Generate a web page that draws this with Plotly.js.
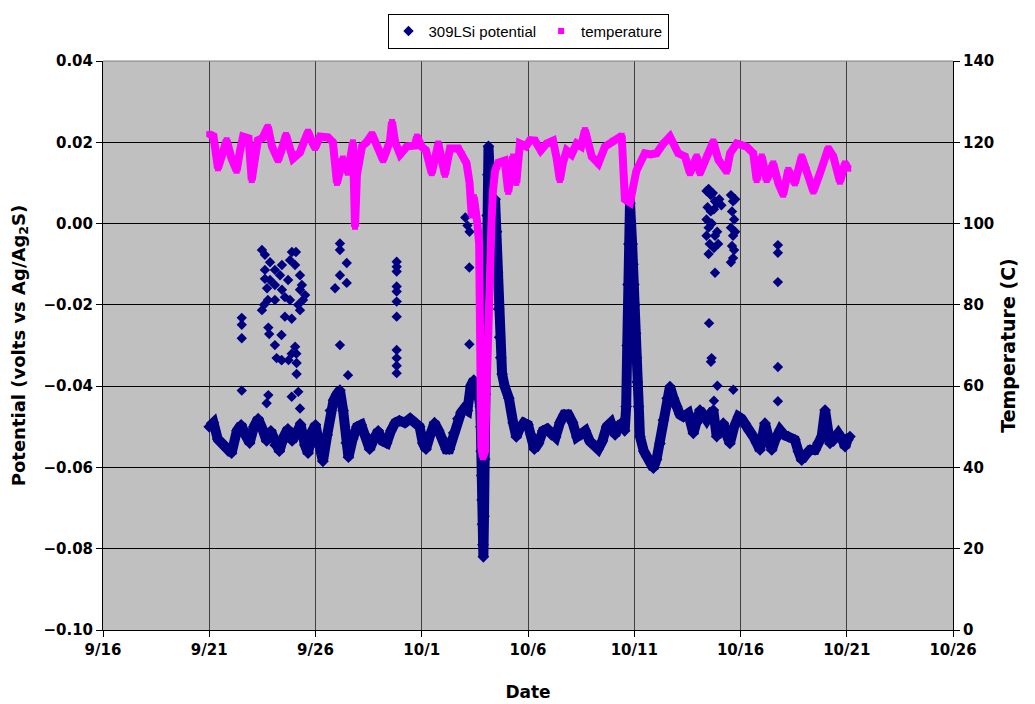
<!DOCTYPE html>
<html>
<head>
<meta charset="utf-8">
<script src="https://cdn.plot.ly/plotly-3.0.1.min.js"></script>
<style>
  html, body { margin: 0; padding: 0; background: #ffffff; }
  #chart { width: 1035px; height: 704px; }
</style>
</head>
<body>
<div id="chart"></div>
<script>
// x values are days counted from 9/16
const tickDays = [0, 5, 10, 15, 20, 25, 30, 35, 40];
const tickLabels = ['9/16', '9/21', '9/26', '10/1', '10/6', '10/11', '10/16', '10/21', '10/26'];

// 309LSi potential, main record (volts)
const potDays = [5.0,5.2,5.4,5.6,5.85,6.05,6.3,6.5,6.7,6.9,7.1,7.3,7.5,7.7,7.9,8.1,8.3,8.5,8.7,8.9,9.1,9.3,9.5,9.65,9.85,10.0,10.2,10.35,10.55,10.7,10.85,11.0,11.15,11.3,11.45,11.55,11.75,11.95,12.15,12.35,12.55,12.75,12.95,13.15,13.35,13.55,13.75,13.95,14.2,14.45,14.7,14.9,15.05,15.2,15.4,15.6,15.8,16.0,16.15,16.3,16.5,16.7,16.85,17.0,17.15,17.3,17.45,17.6,17.75,17.78,17.8,17.82,17.84,17.86,17.88,17.9,17.93,17.96,17.99,18.02,18.05,18.08,18.11,18.14,18.2,18.28,18.36,18.45,18.52,18.57,18.62,18.67,18.72,18.78,18.9,19.1,19.3,19.45,19.6,19.8,20.0,20.15,20.3,20.5,20.7,20.9,21.1,21.3,21.5,21.7,21.9,22.1,22.3,22.5,22.7,22.9,23.1,23.3,23.5,23.7,23.9,24.1,24.25,24.4,24.55,24.62,24.67,24.71,24.75,24.8,24.85,24.9,24.94,24.98,25.02,25.06,25.1,25.14,25.2,25.27,25.45,25.6,25.9,26.05,26.21,26.37,26.55,26.68,26.85,27.0,27.15,27.31,27.54,27.78,27.95,28.09,28.25,28.41,28.56,28.72,28.88,29.05,29.19,29.35,29.5,29.7,29.9,30.05,30.21,30.4,30.6,30.76,30.92,31.15,31.3,31.47,31.65,31.86,32.05,32.25,32.56,32.72,32.88,33.05,33.27,33.51,33.65,33.82,33.98,34.1,34.21,34.4,34.6,34.78,34.92,35.05,35.15];
const potValues = [-0.050,-0.049,-0.053,-0.054,-0.0555,-0.0565,-0.051,-0.0495,-0.052,-0.054,-0.050,-0.048,-0.0505,-0.0535,-0.051,-0.0545,-0.056,-0.0525,-0.0505,-0.0535,-0.052,-0.0495,-0.0545,-0.0565,-0.051,-0.0495,-0.055,-0.0585,-0.052,-0.046,-0.0435,-0.042,-0.041,-0.046,-0.054,-0.0575,-0.053,-0.050,-0.0495,-0.052,-0.0555,-0.053,-0.051,-0.0535,-0.054,-0.051,-0.049,-0.0485,-0.049,-0.048,-0.049,-0.050,-0.054,-0.0555,-0.052,-0.049,-0.051,-0.053,-0.0555,-0.0555,-0.0515,-0.048,-0.0465,-0.0455,-0.046,-0.040,-0.0385,-0.040,-0.045,-0.050,-0.056,-0.062,-0.068,-0.074,-0.079,-0.082,-0.072,-0.058,-0.042,-0.026,-0.010,0.002,0.012,0.019,0.012,0.005,0.000,0.006,-0.002,-0.012,-0.021,-0.028,-0.033,-0.037,-0.040,-0.043,-0.049,-0.0525,-0.0505,-0.049,-0.0495,-0.052,-0.0555,-0.054,-0.051,-0.0505,-0.052,-0.0525,-0.049,-0.047,-0.047,-0.049,-0.0525,-0.052,-0.051,-0.0535,-0.0545,-0.0555,-0.0535,-0.050,-0.049,-0.052,-0.050,-0.049,-0.051,-0.045,-0.030,-0.015,-0.005,0.005,0.000,-0.005,-0.010,-0.015,-0.020,-0.027,-0.033,-0.039,-0.045,-0.0524,-0.056,-0.0574,-0.0602,-0.058,-0.0541,-0.0483,-0.043,-0.0401,-0.043,-0.0451,-0.047,-0.0475,-0.0467,-0.0516,-0.049,-0.0459,-0.047,-0.0483,-0.047,-0.0459,-0.0524,-0.050,-0.0491,-0.052,-0.0541,-0.050,-0.0475,-0.048,-0.0491,-0.051,-0.0524,-0.054,-0.0557,-0.0491,-0.053,-0.0557,-0.053,-0.0508,-0.052,-0.0524,-0.0532,-0.056,-0.0582,-0.057,-0.0557,-0.0557,-0.054,-0.0524,-0.0459,-0.051,-0.0541,-0.053,-0.0516,-0.053,-0.0549,-0.053,-0.0524];

// 309LSi potential, scattered readings away from the main record (volts)
const scatterDays = [6.53,6.53,6.53,6.53,
  7.48,7.62,7.86,8.09,8.33,8.80,8.89,9.04,9.27,9.36,9.51,9.18,8.80,8.56,8.09,7.76,7.58,7.48,7.72,8.09,8.42,8.71,9.27,7.62,7.86,8.42,9.08,9.41,9.27,7.62,
  7.78,7.82,8.09,8.40,8.56,8.88,9.04,9.10,8.40,7.78,7.70,8.41,8.88,9.11,9.11,9.19,8.88,9.27,9.27,8.17,8.73,
  11.15,11.15,11.47,11.15,11.47,10.92,11.15,11.53,
  13.82,13.82,13.82,13.82,13.82,13.82,13.82,13.82,13.82,13.82,13.82,
  17.05,17.15,17.25,17.24,17.24,
  28.4,28.5,28.6,28.7,28.8,28.9,29.0,28.45,28.6,28.75,29.1,28.4,28.5,28.65,28.8,28.9,28.4,28.55,28.75,28.95,28.5,28.8,28.52,28.64,28.61,28.91,28.75,29.66,
  29.55,29.65,29.75,29.6,29.7,29.55,29.65,29.75,29.6,29.7,29.65,29.55,
  31.76,31.76,31.76,31.76,31.76];
const scatterValues = [-0.0232,-0.0249,-0.0282,-0.0411,
  -0.0065,-0.0077,-0.0095,-0.0114,-0.0127,-0.0090,-0.0070,-0.0102,-0.0127,-0.0151,-0.0176,-0.0200,-0.0188,-0.0181,-0.0188,-0.0188,-0.0200,-0.0213,-0.0159,-0.0151,-0.0163,-0.0139,-0.0163,-0.0114,-0.0139,-0.0102,-0.0070,-0.0188,-0.0213,-0.0136,
  -0.0256,-0.0272,-0.0299,-0.0274,-0.0229,-0.0234,-0.0303,-0.0320,-0.0336,-0.0422,-0.0442,-0.0336,-0.0320,-0.0343,-0.0370,-0.0414,-0.0426,-0.0455,-0.0491,-0.0331,-0.0336,
  -0.0049,-0.0065,-0.0097,-0.0127,-0.0146,-0.0159,-0.0299,-0.0373,
  -0.0094,-0.0106,-0.0118,-0.0155,-0.0167,-0.0192,-0.0229,-0.0311,-0.0331,-0.0350,-0.0368,
  0.0015,-0.0005,-0.0020,-0.0108,-0.0297,
  0.0080,0.0085,0.0070,0.0075,0.0055,0.0050,0.0060,0.0040,0.0030,0.0035,0.0045,0.0010,-0.0010,0.0000,-0.0030,-0.0020,-0.0030,-0.0050,-0.0060,-0.0050,-0.0075,-0.0121,-0.0245,-0.0331,-0.0340,-0.0399,-0.0436,-0.0409,
  0.0070,0.0055,0.0060,0.0030,0.0010,-0.0010,-0.0030,-0.0020,-0.0055,-0.0065,-0.0085,-0.0095,
  -0.0053,-0.0072,-0.0144,-0.0353,-0.0437];

// temperature (C)
const tempDays = [5.0,5.2,5.41,5.6,5.82,6.05,6.29,6.45,6.59,6.85,7.0,7.15,7.29,7.5,7.76,7.95,8.24,8.4,8.61,8.94,9.1,9.27,9.45,9.65,9.85,9.98,10.21,10.59,10.82,11.01,11.15,11.29,11.53,11.76,11.86,11.95,12.19,12.4,12.66,12.9,13.18,13.35,13.51,13.6,13.75,13.98,14.31,14.68,14.78,15.0,15.2,15.47,15.78,16.09,16.33,16.72,16.9,17.11,17.25,17.35,17.45,17.55,17.62,17.7,17.72,17.74,17.76,17.8,17.88,17.98,18.03,18.07,18.15,18.22,18.28,18.35,18.45,18.6,18.9,19.07,19.2,19.3,19.45,19.62,19.9,20.1,20.33,20.6,20.88,21.18,21.35,21.5,21.65,21.82,22.05,22.29,22.5,22.68,23.0,23.31,23.62,24.02,24.41,24.56,24.8,25.1,25.5,25.75,26.05,26.37,26.68,27.07,27.39,27.62,27.94,28.09,28.41,28.72,28.96,29.35,29.51,29.82,30.29,30.6,30.76,31.0,31.23,31.54,31.78,32.01,32.25,32.56,32.88,33.12,33.43,33.74,34.13,34.37,34.68,34.92,35.07];
const tempValues = [122,121.5,113.6,117,120.5,116,113,118,121.4,121,110.7,116,120.5,121,123.8,119,115.6,118,121.8,116,117,117.5,120,122.6,120,118.6,121.4,121.2,120,110,113,116,112.5,120,99.2,112,119,120,122,119,115.6,118,120.5,125,120,117,119,119.2,121.4,118.9,118,112.4,119.7,112,118.5,118.5,117,114.8,110,102,106.5,104,100,95,80,65,55,45,42.5,44,55,66,80,92,100,108,113,115,115.5,107.8,112,116.5,110,119.7,119,120.5,120.4,118,119.7,120.4,116,110.7,115,118,117,119.7,119,123,116.5,114.8,118.9,120.4,121.6,106,105.2,113,117.3,117,117.3,119.7,121.4,117.3,116.5,112.4,116.5,112.4,116.5,120.2,115.7,112.8,117.3,119.7,118.9,117.3,110.7,116.5,110.7,114.8,109.9,107.1,113.2,109.9,116.5,113.2,107.9,112.4,118.5,116.5,110.3,114.8,113.5];

const NAVY = '#000080';
const PINK = '#FF00FF';
const boldFont = 'DejaVu Sans, Liberation Sans, Arial, sans-serif';

const traces = [
  {
    x: potDays, y: potValues, type: 'scatter', mode: 'lines+markers',
    line: {color: NAVY, width: 10}, marker: {symbol: 'diamond', color: NAVY, size: 9},
    showlegend: false, hoverinfo: 'skip', yaxis: 'y'
  },
  {
    x: scatterDays, y: scatterValues, type: 'scatter', mode: 'markers',
    name: '309LSi potential',
    marker: {symbol: 'diamond', color: NAVY, size: 8}, yaxis: 'y'
  },
  {
    x: tempDays, y: tempValues, type: 'scatter', mode: 'lines',
    line: {color: PINK, width: 8},
    showlegend: false, hoverinfo: 'skip', yaxis: 'y2'
  },
  {
    x: tempDays, y: tempValues, type: 'scatter', mode: 'markers',
    name: 'temperature',
    marker: {symbol: 'square', color: PINK, size: 6}, yaxis: 'y2'
  }
];

const layout = {
  width: 1035, height: 704,
  margin: {l: 103, r: 82, t: 61, b: 74, pad: 0},
  paper_bgcolor: '#ffffff',
  plot_bgcolor: '#C0C0C0',
  showlegend: true,
  legend: {
    orientation: 'h', x: 0.5, xanchor: 'center', y: 1.083, yanchor: 'top',
    bgcolor: '#ffffff', bordercolor: '#000000', borderwidth: 1,
    font: {family: 'Liberation Sans, Arial, sans-serif', size: 15, color: '#000000'},
    itemwidth: 20, tracegroupgap: 0
  },
  xaxis: {
    range: [0, 40], tickmode: 'array', tickvals: tickDays, ticktext: tickLabels,
    showgrid: true, gridcolor: '#404040', gridwidth: 1,
    zeroline: false, showline: true, linecolor: '#000000', linewidth: 1,
    ticks: 'outside', ticklen: 6, tickcolor: '#000000',
    tickfont: {family: boldFont, size: 15, color: '#000000', weight: 'bold'},
    title: {text: 'Date', standoff: 28, font: {family: boldFont, size: 17, color: '#000000', weight: 'bold'}},
    automargin: false, fixedrange: true
  },
  yaxis: {
    range: [-0.10, 0.04], tickmode: 'linear', tick0: -0.10, dtick: 0.02, tickformat: '.2f',
    showgrid: true, gridcolor: '#000000', gridwidth: 1,
    zeroline: false, showline: true, linecolor: '#000000', linewidth: 1,
    ticks: 'outside', ticklen: 6, tickcolor: '#000000',
    tickfont: {family: boldFont, size: 15, color: '#000000', weight: 'bold'},
    title: {text: 'Potential (volts vs Ag/Ag<sub>2</sub>S)', standoff: 13, font: {family: boldFont, size: 18, color: '#000000', weight: 'bold'}},
    automargin: false, fixedrange: true
  },
  yaxis2: {
    range: [0, 140], tickmode: 'linear', tick0: 0, dtick: 20,
    overlaying: 'y', side: 'right',
    showgrid: false, zeroline: false, showline: true, linecolor: '#000000', linewidth: 1,
    ticks: 'outside', ticklen: 6, tickcolor: '#000000',
    tickfont: {family: boldFont, size: 15, color: '#000000', weight: 'bold'},
    title: {text: 'Temperature (C)', standoff: 8, font: {family: boldFont, size: 19, color: '#000000', weight: 'bold'}},
    automargin: false, fixedrange: true
  },
  shapes: [
    {type: 'line', xref: 'paper', yref: 'paper', x0: 0, x1: 1, y0: 1, y1: 1, line: {color: '#808080', width: 1}}
  ]
};

Plotly.newPlot('chart', traces, layout, {displayModeBar: false, staticPlot: true});
</script>
</body>
</html>
